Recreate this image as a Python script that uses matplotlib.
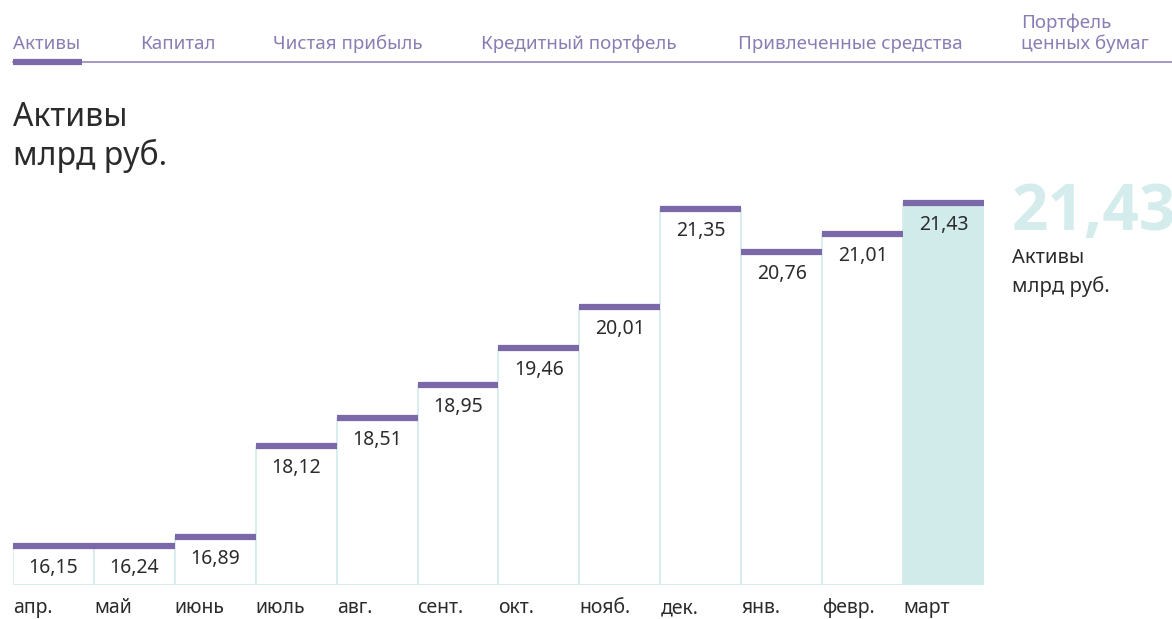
import numpy as np
import matplotlib
matplotlib.use('Agg')
import matplotlib.pyplot as plt

plt.rcParams['font.family'] = ['Noto Sans', 'DejaVu Sans']

# data
months = ['апр.', 'май', 'июнь', 'июль', 'авг.', 'сент.', 'окт.', 'нояб.', 'дек.', 'янв.', 'февр.', 'март']
values = [16.15, 16.24, 16.89, 18.12, 18.51, 18.95, 19.46, 20.01, 21.35, 20.76, 21.01, 21.43]
tabs = ['Активы', 'Капитал', 'Чистая прибыль', 'Кредитный портфель', 'Привлеченные средства', 'Портфель\nценных бумаг']
tab_x = [13, 140, 273, 481, 738, 1021]

purple = '#7b68a8'
tab_color = '#8a7db3'
teal_edge = '#d3ebeb'
teal_fill = '#d1eaea'
big_color = '#d5ecec'
text_dark = '#2b2b2b'

W, H = 1172, 619
fig = plt.figure(figsize=(W / 100, H / 100), dpi=100)

# axes placed by pixels
ax = fig.add_axes([13 / W, (H - 585) / H, (984 - 13) / W, (585 - 190) / H])
base = 16.23
min_h = 0.53
vals = np.array(values)
heights = np.maximum(vals - base, min_h)
x = np.arange(len(months))

face = ['white'] * (len(months) - 1) + [teal_fill]
ax.bar(x, heights, bottom=base, width=1.0, color=face, edgecolor=teal_edge, linewidth=1.2, zorder=2)
tops = base + heights
ax.hlines(tops, x - 0.5, x + 0.5, colors=purple, linewidth=4.5, zorder=3)

for i, (t, v) in enumerate(zip(tops, values)):
    ax.annotate(f'{v:.2f}'.replace('.', ','), (i, t), xytext=(0, -22), textcoords='offset pixels',
                ha='center', va='center', fontsize=14, color=text_dark, zorder=4)
    ax.annotate(months[i], (i - 0.5, 0), xycoords=('data', 'axes fraction'), xytext=(0, -23),
                textcoords='offset pixels', ha='left', va='center', fontsize=14, color=text_dark)

ax.set_xlim(-0.5, len(months) - 0.5)
ax.set_ylim(base, 18.12 + (446 - 190) / 73.4)
ax.axis('off')

# tabs
for lbl, tx in zip(tabs, tab_x):
    fig.text(tx / W, 1 - 44 / H if '\n' not in lbl else 1 - 33 / H, lbl, ha='left', va='center',
             fontsize=13.5, color=tab_color, linespacing=1.15)
fig.add_artist(plt.Line2D([13 / W, 1], [1 - 62 / H] * 2, color=purple, linewidth=1.2, alpha=0.8))
fig.add_artist(plt.Line2D([13 / W, 82 / W], [1 - 62 / H] * 2, color=purple, linewidth=4.5,
                          solid_capstyle='butt'))

# title
fig.text(13 / W, 1 - 118 / H, 'Активы', ha='left', va='center', fontsize=23, color=text_dark)
fig.text(13 / W, 1 - 156 / H, 'млрд руб.', ha='left', va='center', fontsize=23, color=text_dark)

# big number at right (runs off the edge as in the original)
fig.text(1012 / W, 1 - 214 / H, f'{values[-1]:.2f}'.replace('.', ','), ha='left', va='center',
         fontsize=46, fontweight='bold', family=['Open Sans', 'DejaVu Sans'], color=big_color)
fig.text(1012 / W, 1 - 258 / H, 'Активы', ha='left', va='center', fontsize=14.5, color=text_dark)
fig.text(1012 / W, 1 - 287 / H, 'млрд руб.', ha='left', va='center', fontsize=14.5, color=text_dark)

fig.savefig('out.png', dpi=100)
